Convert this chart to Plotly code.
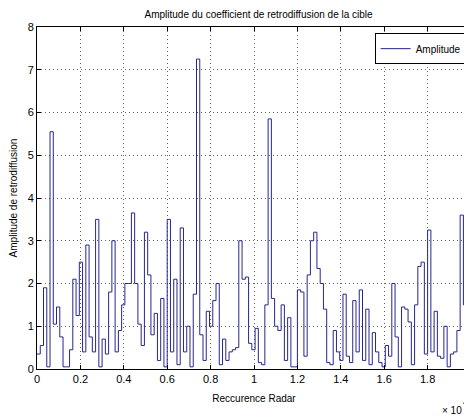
import numpy as np
import plotly.graph_objects as go

# Amplitude per radar recurrence bin, stairs plot
step = 150
amplitude = [
    0.35, 0.55, 1.9, 0.05, 5.55, 1.05, 1.45, 0.75, 0.05, 0.05,
    0.45, 2.1, 1.25, 2.5, 0.4, 2.9, 0.75, 0.4, 3.5, 0.05,
    0.7, 0.35, 1.8, 3.0, 0.4, 0.9, 1.5, 2.0, 2.0, 3.65,
    2.0, 1.05, 0.55, 3.2, 2.2, 0.8, 1.3, 0.2, 1.65, 0.05,
    3.5, 0.4, 2.1, 0.1, 3.3, 0.4, 1.0, 0.05, 1.75, 7.25,
    0.8, 0.2, 1.35, 1.0, 1.6, 2.0, 0.1, 0.7, 0.2, 0.4,
    0.45, 0.5, 3.0, 2.1, 2.15, 0.6, 0.45, 0.95, 0.15, 0.1,
    1.5, 5.85, 1.65, 1.0, 0.9, 1.5, 0.2, 1.2, 0.05, 0.05,
    1.85, 1.8, 0.3, 2.2, 3.0, 3.2, 2.35, 2.0, 1.4, 0.15,
    0.1, 0.9, 0.4, 0.2, 1.75, 0.3, 0.15, 1.6, 0.4, 1.85,
    0.2, 1.4, 0.1, 0.85, 0.4, 0.15, 0.05, 0.55, 0.3, 2.0,
    0.75, 0.05, 1.45, 1.4, 1.1, 0.1, 1.5, 2.4, 2.5, 0.35,
    3.25, 0.4, 1.35, 0.3, 0.25, 1.0, 0.05, 0.35, 0.4, 0.9,
    3.6, 1.5, 0.25, 0.25,
]
recurrence = np.arange(len(amplitude) + 1) * step  # sample index grid
amp_plot = amplitude + [amplitude[-1]]

x_ticks = [0, 2000, 4000, 6000, 8000, 10000, 12000, 14000, 16000, 18000, 20000]
x_ticktext = ["0", "0.2", "0.4", "0.6", "0.8", "1", "1.2", "1.4", "1.6", "1.8", "2"]
y_ticks = [0, 1, 2, 3, 4, 5, 6, 7, 8]

font = "Liberation Sans, Arial, sans-serif"

fig = go.Figure()
fig.add_trace(go.Scatter(
    x=recurrence, y=amp_plot,
    mode="lines", line_shape="hv",
    line=dict(color="#262690", width=1),
    name="Amplitude",
))

axis_common = dict(
    showline=True, linecolor="black", linewidth=1, mirror="ticks",
    ticks="inside", ticklen=4, tickcolor="black",
    showgrid=True, gridcolor="rgba(0,0,0,0.6)", griddash="1px,3px", gridwidth=1,
    zeroline=False, automargin=False,
    tickfont=dict(family=font, size=11, color="black"),
)

# the page body has an 8px margin, so the figure is 8px smaller on each side
fig.update_layout(
    width=464, height=409,
    margin=dict(l=29, r=1, t=19, b=48),
    paper_bgcolor="white", plot_bgcolor="white",
    font=dict(family=font, size=10, color="black"),
    title=dict(text="Amplitude du coefficient de retrodiffusion de la cible",
               x=0.54, xanchor="center", y=0.985, yanchor="middle",
               font=dict(family=font, size=10, color="black")),
    xaxis=dict(range=[0, 20000], tickvals=x_ticks, ticktext=x_ticktext,
               title=dict(text="Reccurence Radar", standoff=10,
                          font=dict(family=font, size=10)),
               **axis_common),
    yaxis=dict(range=[0, 8], tickvals=y_ticks,
               title=dict(text="Amplitude de retrodiffusion", standoff=8,
                          font=dict(family=font, size=10)),
               **axis_common),
    showlegend=True,
    legend=dict(x=0.99, xanchor="right", y=0.982, yanchor="top",
                bgcolor="white", bordercolor="black", borderwidth=1,
                font=dict(family=font, size=10)),
)

fig.add_annotation(text="× 10", xref="paper", yref="paper", x=0.985, y=-0.12,
                   xanchor="right", yanchor="middle", showarrow=False,
                   font=dict(family=font, size=10))
fig.add_annotation(text="4", xref="paper", yref="paper", x=0.998, y=-0.098,
                   xanchor="right", yanchor="middle", showarrow=False,
                   font=dict(family=font, size=8))

fig.write_html("out.html")
